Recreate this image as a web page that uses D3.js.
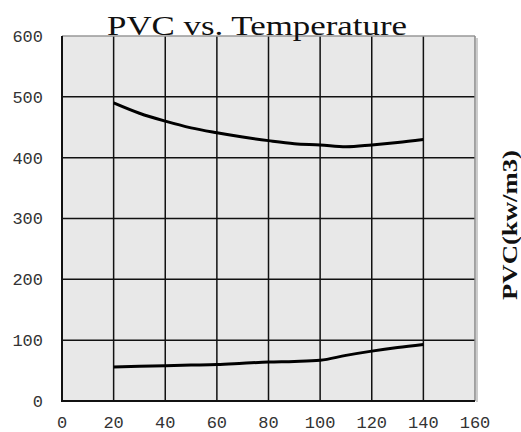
<!DOCTYPE html>
<html><head><meta charset="utf-8">
<script src="https://cdn.jsdelivr.net/npm/d3@7"></script>
<style>body{margin:0;background:#fff}svg{display:block}</style>
</head><body>
<svg id="c" width="521" height="432"></svg>
<script>
const temps = [20,30,40,50,60,70,80,90,100,110,120,130,140];
const pvcUpper = [490,473,460,449,441,434,428,423,421,418,421,425,430];
const pvcLower = [56,57,58,59,60,62,64,65,67,75,82,88,93];
const xTicks = [0,20,40,60,80,100,120,140,160];
const yTicks = [0,100,200,300,400,500,600];
const titleText = "PVC vs. Temperature";
const yLabel = "PVC(kw/m3)";

const svg = d3.select("#c");
const L=62, R=475, T=36, B=401;
const x = d3.scaleLinear().domain([0,160]).range([L,R]);
const y = d3.scaleLinear().domain([0,600]).range([B,T]);

svg.append("rect").attr("x",L).attr("y",T).attr("width",R-L).attr("height",B-T).attr("fill","#e8e8e8");

// grid
svg.append("g").selectAll("line").data(xTicks.slice(1,-1)).join("line")
  .attr("x1",d=>x(d)).attr("x2",d=>x(d)).attr("y1",T).attr("y2",B)
  .attr("stroke","#111").attr("stroke-width",1.5);
svg.append("g").selectAll("line").data(yTicks.slice(1,-1)).join("line")
  .attr("x1",L).attr("x2",R).attr("y1",d=>y(d)).attr("y2",d=>y(d))
  .attr("stroke","#111").attr("stroke-width",1.5);

// borders
svg.append("line").attr("x1",L).attr("x2",R).attr("y1",T).attr("y2",T).attr("stroke","#999").attr("stroke-width",1.5);
svg.append("line").attr("x1",R+2).attr("x2",R+2).attr("y1",T+2).attr("y2",B+1).attr("stroke","#ccc").attr("stroke-width",2);
svg.append("line").attr("x1",R).attr("x2",R).attr("y1",T).attr("y2",B).attr("stroke","#888").attr("stroke-width",1.5);
svg.append("line").attr("x1",L).attr("x2",L).attr("y1",T).attr("y2",B+1).attr("stroke","#111").attr("stroke-width",2);
svg.append("line").attr("x1",L).attr("x2",R).attr("y1",B).attr("y2",B).attr("stroke","#111").attr("stroke-width",2);

// curves
const line = d3.line().x(d=>x(d[0])).y(d=>y(d[1])).curve(d3.curveMonotoneX);
[pvcUpper,pvcLower].forEach(s=>{
  svg.append("path").attr("d",line(temps.map((t,i)=>[t,s[i]])))
    .attr("fill","none").attr("stroke","#000").attr("stroke-width",3);
});

// tick labels
const tickFont = "'Liberation Mono', monospace";
svg.append("g").selectAll("text").data(yTicks).join("text")
  .attr("x",43).attr("y",d=>y(d)).attr("dy","0.35em").attr("text-anchor","end")
  .attr("font-family",tickFont).attr("font-size",17).attr("fill","#333").text(d=>d);
svg.append("g").selectAll("text").data(xTicks).join("text")
  .attr("x",d=>x(d)).attr("y",428).attr("text-anchor","middle")
  .attr("font-family",tickFont).attr("font-size",17).attr("fill","#333").text(d=>d);

// title
svg.append("text").attr("x",107).attr("y",35)
  .attr("font-family","'Liberation Serif', serif").attr("font-size",28)
  .attr("textLength",300).attr("lengthAdjust","spacingAndGlyphs")
  .attr("fill","#111").text(titleText);

// right label
svg.append("text").attr("transform","translate(517,300) rotate(-90)")
  .attr("font-family","'Liberation Serif', serif").attr("font-size",20).attr("font-weight","bold")
  .attr("textLength",150).attr("lengthAdjust","spacingAndGlyphs")
  .attr("fill","#111").text(yLabel);
</script>
</body></html>
